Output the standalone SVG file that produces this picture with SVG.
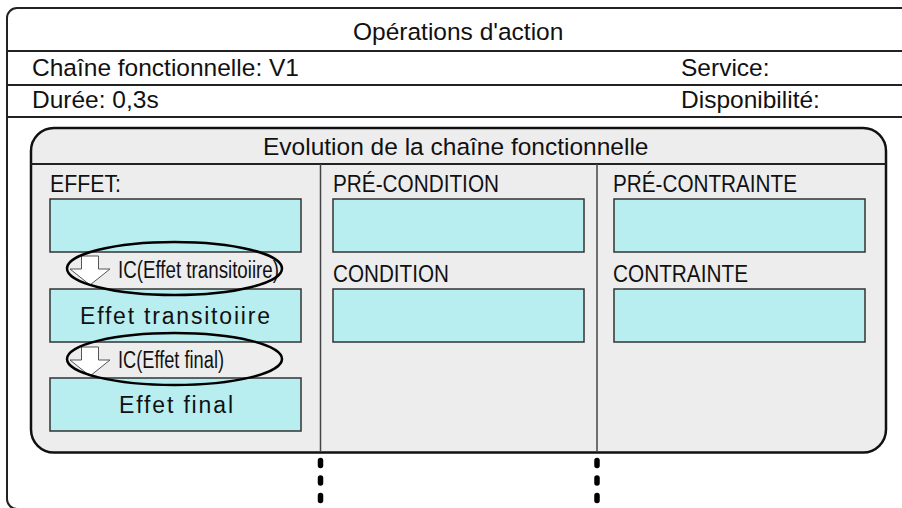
<svg xmlns="http://www.w3.org/2000/svg" width="902" height="508" viewBox="0 0 902 508">
<style>
text{font-family:"Liberation Sans",Arial,sans-serif;fill:#111}
.hdr{font-size:24.5px}
.lbl{font-size:23px}
.ic{font-size:23px}
.box{fill:#b8eef0;stroke:#333;stroke-width:1.5}
.bt{font-size:23px;text-anchor:middle}
.rule{stroke:#222;stroke-width:2;fill:none}
.div{stroke:#444;stroke-width:1.5}
.ell{fill:none;stroke:#000;stroke-width:2.5}
.arr{fill:#fff;stroke:#555;stroke-width:1}
.dots{stroke:#000;stroke-width:5.5;stroke-linecap:round;stroke-dasharray:5 12.5;fill:none}
</style>
<rect x="0" y="0" width="902" height="508" fill="#fff"/>
<g id="frame">
<rect x="7" y="8" width="1000" height="501" rx="10" class="rule"/>
<line x1="7" y1="51" x2="902" y2="51" class="rule"/>
<line x1="7" y1="85" x2="902" y2="85" class="rule"/>
<line x1="7" y1="117" x2="902" y2="117" class="rule"/>
<text class="hdr" x="353" y="39.5">Opérations d'action</text>
<text class="hdr" x="32" y="76">Chaîne fonctionnelle: V1</text>
<text class="hdr" x="681" y="76">Service:</text>
<text class="hdr" x="32" y="108">Durée: 0,3s</text>
<text class="hdr" x="681" y="108">Disponibilité:</text>
</g>
<g id="evolution">
<rect x="31" y="128" width="855" height="324.5" rx="23" fill="#ededed" stroke="#111" stroke-width="2.5"/>
<line x1="31" y1="164" x2="886" y2="164" class="rule"/>
<line x1="320.5" y1="164" x2="320.5" y2="452" class="div"/>
<line x1="597" y1="164" x2="597" y2="452" class="div"/>
<text class="hdr" x="263" y="155">Evolution de la chaîne fonctionnelle</text>
</g>
<g id="col-effet">
<text class="lbl" x="50" y="192" textLength="71" lengthAdjust="spacingAndGlyphs">EFFET:</text>
<rect id="effet-initial" class="box" x="50" y="199" width="251" height="53"/>
<g id="effet-transitoire">
<rect class="box" x="50" y="289" width="251" height="53"/>
<text class="bt" x="175" y="323.5" textLength="190" lengthAdjust="spacing">Effet transitoiire</text>
</g>
<g id="effet-final">
<rect class="box" x="50" y="378" width="251" height="53"/>
<text class="bt" x="176" y="412.5" textLength="114" lengthAdjust="spacing">Effet final</text>
</g>
</g>
<g id="ic-transitoire">
<polygon class="arr" points="81.5,256 98.5,256 98.5,269 110,269 90,285 70,269 81.5,269"/>
<text class="ic" x="118" y="278" textLength="161" lengthAdjust="spacingAndGlyphs">IC(Effet transitoiire)</text>
<ellipse class="ell" cx="174.5" cy="268.5" rx="107.5" ry="26.5"/>
</g>
<g id="ic-final">
<polygon class="arr" points="81.5,347 98.5,347 98.5,360 110,360 90,376 70,360 81.5,360"/>
<text class="ic" x="118" y="368" textLength="106" lengthAdjust="spacingAndGlyphs">IC(Effet final)</text>
<ellipse class="ell" cx="174.5" cy="359" rx="107.5" ry="26"/>
</g>
<g id="col-condition">
<text class="lbl" x="333" y="192" textLength="166" lengthAdjust="spacingAndGlyphs">PRÉ-CONDITION</text>
<rect id="pre-condition" class="box" x="333" y="199" width="251" height="53"/>
<text class="lbl" x="333" y="282" textLength="116" lengthAdjust="spacingAndGlyphs">CONDITION</text>
<rect id="condition" class="box" x="333" y="289" width="251" height="53"/>
</g>
<g id="col-contrainte">
<text class="lbl" x="613" y="192" textLength="184" lengthAdjust="spacingAndGlyphs">PRÉ-CONTRAINTE</text>
<rect id="pre-contrainte" class="box" x="614" y="199" width="251" height="53"/>
<text class="lbl" x="613" y="282" textLength="135" lengthAdjust="spacingAndGlyphs">CONTRAINTE</text>
<rect id="contrainte" class="box" x="614" y="289" width="251" height="53"/>
</g>
<g id="connectors">
<line class="dots" x1="320.5" y1="460.5" x2="320.5" y2="506"/>
<line class="dots" x1="597" y1="460.5" x2="597" y2="506"/>
</g>
</svg>
